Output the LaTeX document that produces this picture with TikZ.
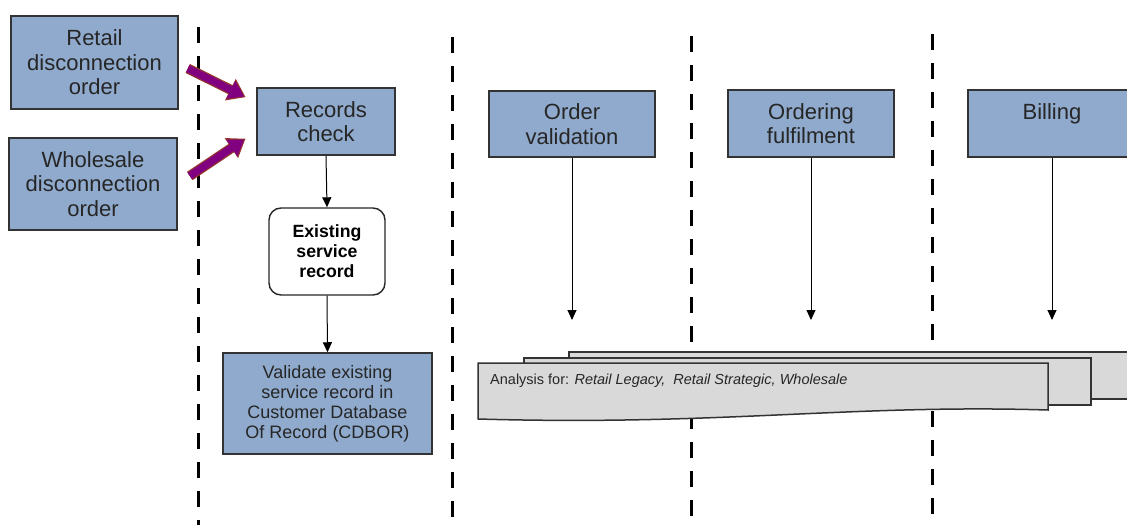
\documentclass[tikz,border=0pt]{standalone}
\usepackage{fontspec}
\setmainfont{Liberation Sans}
\usetikzlibrary{arrows.meta}
\definecolor{boxblue}{RGB}{143,170,204}
\definecolor{docgray}{RGB}{217,217,217}
\definecolor{arrowpurple}{RGB}{128,0,128}
\definecolor{arrowrim}{RGB}{150,55,45}
\tikzset{
  stepbox/.style={draw=black!80,line width=1.5pt,fill=boxblue,align=center,inner sep=0pt,text=black!85,
    font=\fontsize{22}{24.5}\selectfont},
  recbox/.style={draw=black!85,line width=1.4pt,fill=white,rounded corners=12pt,align=center,inner sep=0pt,
    font=\fontsize{17.7}{20}\selectfont\bfseries},
  lane/.style={line width=3pt,dash pattern=on 16pt off 13pt},
  doc/.style={draw=black!80,line width=1.5pt,fill=docgray},
  flow/.style={line width=1pt,-{Triangle[length=10pt,width=9pt]}},
  fatarrow/.style={preaction={draw=arrowrim,line width=10pt,shorten >=-1.5pt,-{Triangle[length=17pt,width=23pt]}},
    draw=arrowpurple,line width=7.5pt,-{Triangle[length=15pt,width=19pt]}}
}
\begin{document}
\begin{tikzpicture}[x=1pt,y=-1pt]
    \useasboundingbox (0,0) rectangle (1127,525);
    \clip (0,0) rectangle (1127,525);
    \foreach \xx/\yy in {198/27,452/37,691/36,932/34}
      \draw[lane] (\xx,\yy) -- (\xx,525);

    \node[stepbox,minimum width=167pt,minimum height=93pt] (retail) at (94.5,62.5) {Retail\\disconnection\\order};
    \node[stepbox,minimum width=168pt,minimum height=92pt] (wholesale) at (93,184) {Wholesale\\disconnection\\order};
    \node[stepbox,minimum width=138pt,minimum height=67pt] (rec) at (326,121.5) {Records\\check};
    \node[recbox,minimum width=116pt,minimum height=87pt] (exist) at (327,251.5) {Existing\\service\\record};
    \node[stepbox,minimum width=209pt,minimum height=101pt,font=\fontsize{18}{20}\selectfont] (valid) at (327.5,403.5)
      {Validate existing\\service record in\\Customer Database\\Of Record (CDBOR)};
    \node[stepbox,minimum width=166pt,minimum height=66pt] (ordval) at (572,124) {Order\\validation};
    \node[stepbox,minimum width=166pt,minimum height=67pt] (ordful) at (811,123.5) {Ordering\\fulfilment};
    \node[stepbox,minimum width=168pt,minimum height=67pt] (bill) at (1052,123.5) {Billing\\\mbox{}};

    \draw[doc] (569,352) rectangle (1140,399);
    \draw[doc] (524,358) rectangle (1091,405);
    \draw[doc] (478,363) -- (1048,363) -- (1048,410) .. controls (850,404) and (720,426) .. (478,419) -- cycle;
    \node[anchor=west,inner sep=0pt,text=black!85,font=\fontsize{14.5}{16}\selectfont] (analysis) at (490,381)
      {Analysis for: \textit{Retail Legacy,\ \ Retail Strategic, Wholesale}};

    \coordinate (docline) at (0,320);
    \draw[flow] (rec.south) -- (exist.north);
    \draw[flow] (exist.south) -- (valid.north);
    \draw[flow] (ordval.south) -- (ordval.south |- docline);
    \draw[flow] (ordful.south) -- (ordful.south |- docline);
    \draw[flow] (bill.south) -- (bill.south |- docline);

    \draw[fatarrow] ([shift={(9,6)}]retail.east) -- ([shift={(-12,-25)}]rec.west);
    \draw[fatarrow] ([shift={(12,-8)}]wholesale.east) -- ([shift={(-12,18)}]rec.west);

  \end{tikzpicture}
\end{document}
